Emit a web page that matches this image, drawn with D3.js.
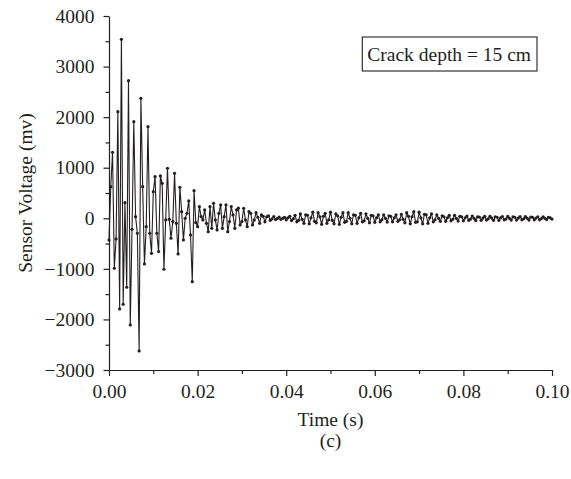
<!DOCTYPE html>
<html>
<head>
<meta charset="utf-8">
<script src="https://cdn.jsdelivr.net/npm/d3@7"></script>
<style>
  body { margin: 0; background: #fff; }
  svg text { font-family: "Liberation Serif", "Times New Roman", serif; fill: #231f20; }
</style>
</head>
<body>
<div id="chart"></div>
<script>
// sample interval of the recorded signal (s)
const sampleStep = 0.0004;

// sensor voltage (mV), one value per sample
const voltage = [
  -429, 625, 1305, -988, -409, 2108, -1793, 3539, -1700, 309,
  -1364, 2722, -2109, -217, 1911, 32, -296, -2623, 2373, 625,
  -903, -165, 1812, -296, -692, 527, 823, -296, -659, 837,
  692, -1008, -33, 989, -20, -395, -66, 890, -99, -705,
  613, 131, -428, 0, 99, 343, -330, -1253, 546, -86,
  -165, 230, 32, -33,
  165, -99, -264, 230, -198, 297, -33, -230, 99, 264,
  -198, 32, 264, -264, -66, 231, 66, -198, 165, 200,
  -132, -66, 198, -33, -165, 132, 99,
  -132, -33, 110, 20, -100, 66, 40, -70, 30, 50,
  -40, -10, 35, -25, -5,
  25, -20, 0, 20, -30, 10, 40, -45, -10, 60,
  -70, -40, 90, -20, -100, 70, 60, -110, 10, 120,
  -60, -90, 110, 30, -120, 40, 100, -100, -30, 120,
  -40, -110, 90, 50, -120, 20, 110, -80, -60, 110,
  0, -110, 70, 60, -100, 10, 100, -70, -50, 90,
  0, -90, 60, 50, -80,
  10, 70, -70, -30, 70, 0, -75, 50, 40, -70,
  10, 70, -60, -30, 80,
  -20, -90, 110, 40, -110, 30, 130, -80, -70, 120,
  10, -110, 80, 70, -100, 10, 90,
  -70, -30, 70, 0, -60, 50, 30, -60, 10, 60,
  -50, -20, 60, 0, -55, 40, 30, -50,
  10, 45, -40, -15, 45, 0, -45, 30, 25, -40,
  5, 40, -35, -10, 40, 5, -40, 30, 20, -40,
  10, 35, -30, -15, 40, 0, -35, 30, 20, -35,
  5, 35, -30, -10, 35, 0, -35, 25, 20, -30,
  5, 30, -30, -5, 30, 0, -25, 20, 10, -15
];

const xTicks = [0, 0.02, 0.04, 0.06, 0.08, 0.10];
const yTicks = [-3000, -2000, -1000, 0, 1000, 2000, 3000, 4000];
const legendLabel = "Crack depth = 15 cm";

const data = voltage.map((v, i) => ({t: i * sampleStep, v: v}));

const W = 571, H = 479;
const margin = {top: 16, right: 19, bottom: 109, left: 109};
const width = W - margin.left - margin.right;
const height = H - margin.top - margin.bottom;
const fontSize = "19.5px";

const svg = d3.select("#chart").append("svg")
    .attr("width", W)
    .attr("height", H);

const g = svg.append("g")
    .attr("transform", `translate(${margin.left},${margin.top})`);

const x = d3.scaleLinear().domain([0, 0.10]).range([0, width]);
const y = d3.scaleLinear().domain([-3000, 4000]).range([height, 0]);

// minor ticks first, majors drawn on top
g.append("g")
    .attr("transform", `translate(0,${height})`)
    .call(d3.axisBottom(x).tickValues(d3.range(0.01, 0.1, 0.02)).tickSize(4).tickFormat(""))
    .call(a => a.select(".domain").remove());

g.append("g")
    .call(d3.axisLeft(y).tickValues(d3.range(-2500, 4000, 1000)).tickSize(3.5).tickFormat(""))
    .call(a => a.select(".domain").remove());

const xAxis = g.append("g")
    .attr("transform", `translate(0,${height})`)
    .call(d3.axisBottom(x).tickValues(xTicks).tickSize(6).tickSizeOuter(0).tickPadding(8).tickFormat(d3.format(".2f")));

const yAxis = g.append("g")
    .call(d3.axisLeft(y).tickValues(yTicks).tickSize(5.5).tickSizeOuter(0).tickPadding(9).tickFormat(d3.format("d")));

[xAxis, yAxis].forEach(a => {
    a.selectAll("path, line").attr("stroke", "#231f20").attr("stroke-width", 1.2);
    a.selectAll("text").style("font-size", fontSize).attr("fill", "#231f20");
});
g.selectAll(".tick line").attr("stroke", "#231f20").attr("stroke-width", 1.2);

// signal
const line = d3.line()
    .x(d => x(d.t))
    .y(d => y(d.v));

g.append("path")
    .datum(data)
    .attr("fill", "none")
    .attr("stroke", "#231f20")
    .attr("stroke-width", 1.1)
    .attr("stroke-linejoin", "round")
    .attr("d", line);

g.selectAll(".pt")
    .data(data)
    .enter().append("circle")
    .attr("class", "pt")
    .attr("cx", d => x(d.t))
    .attr("cy", d => y(d.v))
    .attr("r", 1.6)
    .attr("fill", "#231f20");

// legend box
const legend = g.append("g")
    .attr("transform", `translate(${width - 15}, 21)`);
const legendText = legend.append("text")
    .attr("x", -6)
    .attr("y", 24)
    .attr("text-anchor", "end")
    .style("font-size", fontSize)
    .text(legendLabel);
const bb = legendText.node().getBBox();
legend.insert("rect", "text")
    .attr("x", bb.x - 5)
    .attr("y", 0)
    .attr("width", bb.width + 11)
    .attr("height", 34)
    .attr("fill", "#fff")
    .attr("stroke", "#231f20")
    .attr("stroke-width", 1.1);

// axis titles
g.append("text")
    .attr("x", width / 2)
    .attr("y", height + 56)
    .attr("text-anchor", "middle")
    .style("font-size", fontSize)
    .text("Time (s)");

g.append("text")
    .attr("transform", `translate(${25 - margin.left}, ${height / 2}) rotate(-90)`)
    .attr("dy", "0.35em")
    .attr("text-anchor", "middle")
    .style("font-size", fontSize)
    .text("Sensor Voltage (mv)");

svg.append("text")
    .attr("x", margin.left + width / 2)
    .attr("y", 447)
    .attr("text-anchor", "middle")
    .style("font-size", fontSize)
    .text("(c)");
</script>
</body>
</html>
